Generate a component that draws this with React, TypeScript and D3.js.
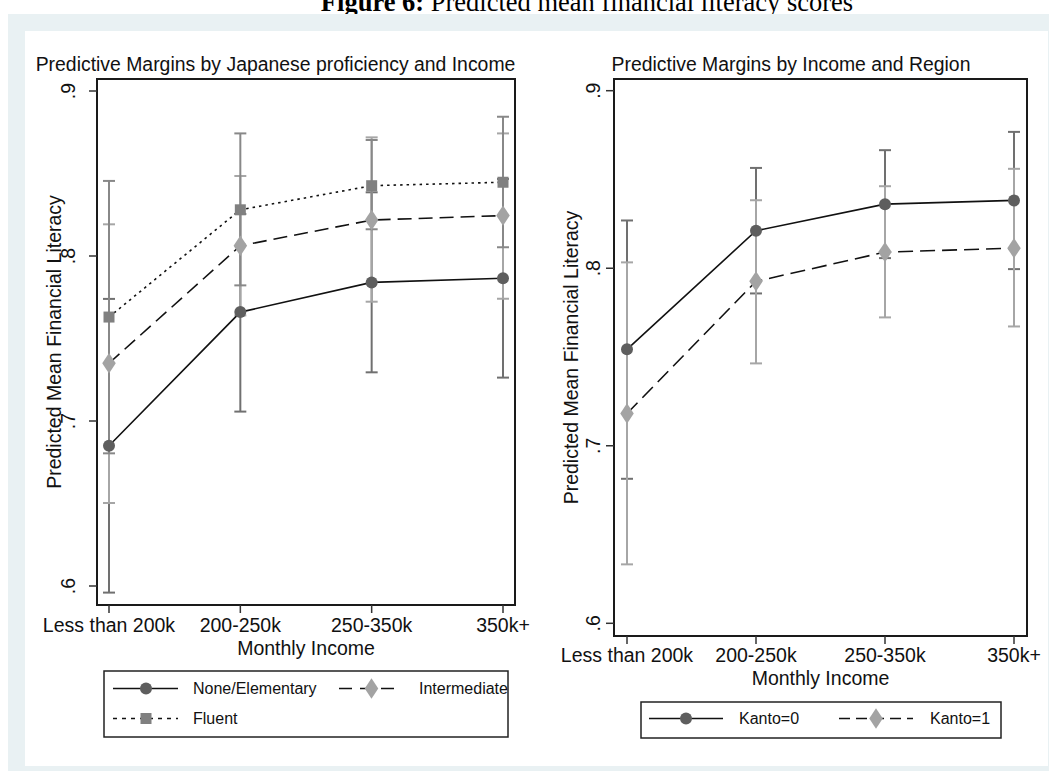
import React from 'react'
import * as d3 from 'd3'

// income groups on the x axis
const incomeCats = ['Less than 200k', '200-250k', '250-350k', '350k+']
const yTicks = [0.6, 0.7, 0.8, 0.9]
const yTickLabels = ['.6', '.7', '.8', '.9']

// left panel: Japanese proficiency
const noneMean = [0.685, 0.766, 0.784, 0.7865]
const noneLo = [0.596, 0.7057, 0.7295, 0.7263]
const noneHi = [0.774, 0.8255, 0.8386, 0.8467]
const interMean = [0.735, 0.8062, 0.8218, 0.8245]
const interLo = [0.6503, 0.764, 0.7723, 0.7741]
const interHi = [0.8192, 0.8485, 0.8719, 0.8743]
const fluentMean = [0.763, 0.828, 0.8426, 0.8447]
const fluentLo = [0.6804, 0.7822, 0.8162, 0.8053]
const fluentHi = [0.8455, 0.8743, 0.8703, 0.8844]

// right panel: region
const kanto0Mean = [0.7543, 0.8211, 0.8361, 0.8382]
const kanto0Lo = [0.6814, 0.7858, 0.8057, 0.7995]
const kanto0Hi = [0.8269, 0.8565, 0.8665, 0.8768]
const kanto1Mean = [0.7182, 0.7926, 0.8091, 0.8113]
const kanto1Lo = [0.6332, 0.7464, 0.7723, 0.7672]
const kanto1Hi = [0.8033, 0.8383, 0.8462, 0.856]

const FONT = '"Liberation Sans", Arial, sans-serif'

type Series = {
  name: string
  mean: number[]
  lo: number[]
  hi: number[]
  marker: string
  fill: string
  ciColor: string
  dash: string
  legendDash: string
}

const leftSeries: Series[] = [
  { name: 'None/Elementary', mean: noneMean, lo: noneLo, hi: noneHi, marker: 'circle', fill: '#5e5e5e', ciColor: '#707070', dash: '', legendDash: '' },
  { name: 'Intermediate', mean: interMean, lo: interLo, hi: interHi, marker: 'diamond', fill: '#a3a3a3', ciColor: '#a6a6a6', dash: '14 7', legendDash: '13 8' },
  { name: 'Fluent', mean: fluentMean, lo: fluentLo, hi: fluentHi, marker: 'square', fill: '#808080', ciColor: '#888888', dash: '2.5 4', legendDash: '4 5' },
]

const rightSeries: Series[] = [
  { name: 'Kanto=0', mean: kanto0Mean, lo: kanto0Lo, hi: kanto0Hi, marker: 'circle', fill: '#5e5e5e', ciColor: '#707070', dash: '', legendDash: '' },
  { name: 'Kanto=1', mean: kanto1Mean, lo: kanto1Lo, hi: kanto1Hi, marker: 'diamond', fill: '#a3a3a3', ciColor: '#a6a6a6', dash: '15 7', legendDash: '11 6' },
]

function Marker({ kind, x, y, fill }: { kind: string; x: number; y: number; fill: string }) {
  if (kind === 'circle') return <circle cx={x} cy={y} r={6} fill={fill} />
  if (kind === 'square') return <rect x={x - 5.5} y={y - 5.5} width={11} height={11} fill={fill} />
  const sym = d3.symbol(d3.symbolDiamond, 120)()
  return <path d={sym || ''} transform={`translate(${x},${y}) scale(1.15,1)`} fill={fill} />
}

type PanelProps = {
  title: string
  titleX: number
  series: Series[]
  left: number
  right: number
  top: number
  bottom: number
  x0: number
  x1: number
  y6: number
  y9: number
  tickLabelY: number
  axisTitleY: number
  yLabelX: number
  yTitleX: number
  legend: { x: number; y: number; w: number; h: number; items: { sx: number; ex: number; mx: number; lx: number; cy: number }[] }
}

function Panel(p: PanelProps) {
  const x = d3.scalePoint<string>().domain(incomeCats).range([p.x0, p.x1])
  const y = d3.scaleLinear().domain([0.6, 0.9]).range([p.y6, p.y9])
  const line = d3.line<number>().x((d, i) => x(incomeCats[i]) as number).y(d => y(d))
  const midY = (p.top + p.bottom) / 2
  const midX = (p.left + p.right) / 2
  return (
    <g fontFamily={FONT}>
      <text x={p.titleX} y={71} fontSize={19.4} textAnchor="middle" fill="#111">{p.title}</text>
      {/* error bars */}
      {p.series.map(s => (
        <g key={s.name + 'ci'} stroke={s.ciColor} strokeWidth={2}>
          {incomeCats.map((c, i) => {
            const cx = x(c) as number
            return (
              <g key={c}>
                <line x1={cx} x2={cx} y1={y(s.lo[i])} y2={y(s.hi[i])} />
                <line x1={cx - 6} x2={cx + 6} y1={y(s.lo[i])} y2={y(s.lo[i])} />
                <line x1={cx - 6} x2={cx + 6} y1={y(s.hi[i])} y2={y(s.hi[i])} />
              </g>
            )
          })}
        </g>
      ))}
      {p.series.map(s => (
        <path key={s.name + 'ln'} d={line(s.mean) || ''} fill="none" stroke="#111" strokeWidth={1.6} strokeDasharray={s.dash || undefined} />
      ))}
      {p.series.map(s => (
        <g key={s.name + 'mk'}>
          {incomeCats.map((c, i) => (
            <Marker key={c} kind={s.marker} x={x(c) as number} y={y(s.mean[i])} fill={s.fill} />
          ))}
        </g>
      ))}
      <rect x={p.left} y={p.top} width={p.right - p.left} height={p.bottom - p.top} fill="none" stroke="#1a1a1a" strokeWidth={2} />
      {/* y axis */}
      {yTicks.map((t, i) => (
        <g key={t}>
          <line x1={p.left - 8} x2={p.left} y1={y(t)} y2={y(t)} stroke="#333" strokeWidth={1.5} />
          <text transform={`translate(${p.yLabelX},${y(t)}) rotate(-90)`} textAnchor="middle" fontSize={19.5} fill="#111">{yTickLabels[i]}</text>
        </g>
      ))}
      <text transform={`translate(${p.yTitleX},${midY}) rotate(-90)`} textAnchor="middle" fontSize={19.5} fill="#111">Predicted Mean Financial Literacy</text>
      {/* x axis */}
      {incomeCats.map(c => (
        <g key={c}>
          <line x1={x(c) as number} x2={x(c) as number} y1={p.bottom} y2={p.bottom + 8} stroke="#333" strokeWidth={1.5} />
          <text x={x(c) as number} y={p.tickLabelY} textAnchor="middle" fontSize={19.5} fill="#111">{c}</text>
        </g>
      ))}
      <text x={midX} y={p.axisTitleY} textAnchor="middle" fontSize={19.5} fill="#111">Monthly Income</text>
      {/* legend */}
      <rect x={p.legend.x} y={p.legend.y} width={p.legend.w} height={p.legend.h} fill="white" stroke="#222" strokeWidth={1.5} />
      {p.series.map((s, i) => {
        const it = p.legend.items[i]
        return (
          <g key={s.name + 'lg'}>
            <line x1={it.sx} x2={it.ex} y1={it.cy} y2={it.cy} stroke="#111" strokeWidth={1.6} strokeDasharray={s.legendDash || undefined} />
            <Marker kind={s.marker} x={it.mx} y={it.cy} fill={s.fill} />
            <text x={it.lx} y={it.cy + 5.5} fontSize={16} fill="#111">{s.name}</text>
          </g>
        )
      })}
    </g>
  )
}

export default function App() {
  return (
    <svg width={1049} height={771} style={{ position: 'absolute', left: 0, top: 0, background: 'white' }}>
      <text x={587} y={11} textAnchor="middle" fontFamily='"Liberation Serif", "Times New Roman", serif' fontSize={26.5} fill="#000">
        <tspan fontWeight="bold">Figure 6:</tspan> Predicted mean financial literacy scores
      </text>
      <rect x={8} y={14} width={1049} height={771} fill="#e9f1f3" />
      <rect x={25} y={31} width={1023} height={735} fill="white" />
      <Panel
        title="Predictive Margins by Japanese proficiency and Income"
        titleX={275.5}
        series={leftSeries}
        left={97} right={515} top={79} bottom={605}
        x0={109} x1={503}
        y6={586} y9={91}
        tickLabelY={632} axisTitleY={655}
        yLabelX={75} yTitleX={61}
        legend={{
          x: 104, y: 671, w: 404, h: 66,
          items: [
            { sx: 113, ex: 178, mx: 146, lx: 193, cy: 688.5 },
            { sx: 339, ex: 400, mx: 371.5, lx: 419, cy: 688.5 },
            { sx: 113, ex: 178, mx: 146, lx: 193, cy: 718.5 },
          ],
        }}
      />
      <Panel
        title="Predictive Margins by Income and Region"
        titleX={791}
        series={rightSeries}
        left={614} right={1027} top={79} bottom={636}
        x0={627} x1={1014}
        y6={623.3} y9={90.7}
        tickLabelY={662} axisTitleY={685}
        yLabelX={600} yTitleX={578}
        legend={{
          x: 641, y: 702, w: 360, h: 36,
          items: [
            { sx: 649, ex: 723, mx: 686, lx: 739, cy: 718.5 },
            { sx: 839, ex: 913, mx: 876, lx: 930, cy: 718.5 },
          ],
        }}
      />
    </svg>
  )
}
